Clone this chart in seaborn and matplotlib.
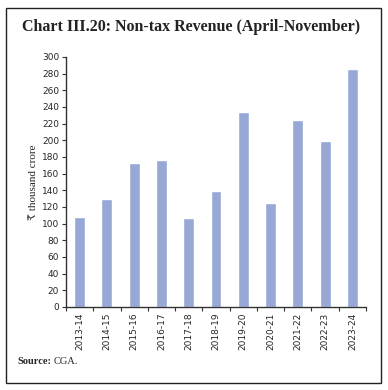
import matplotlib
matplotlib.use("Agg")
import matplotlib.pyplot as plt
from matplotlib.patches import Rectangle
from matplotlib.ticker import FixedLocator
import numpy as np
import pandas as pd
import seaborn as sns

# data
years = ["2013-14", "2014-15", "2015-16", "2016-17", "2017-18", "2018-19",
         "2019-20", "2020-21", "2021-22", "2022-23", "2023-24"]
revenue = [107.5, 129, 173, 176, 106.5, 139, 233.5, 124.5, 224, 199, 285.5]

df = pd.DataFrame({"year": years, "revenue": revenue})

sns.set_style("white")
plt.rcParams["font.family"] = ["DejaVu Sans"]

fig = plt.figure(figsize=(3.88, 3.90), dpi=100)
ax = fig.add_axes([66 / 388, 1 - 307 / 390, 300 / 388, 250 / 390])

sns.barplot(data=df, x="year", y="revenue", color="#97A8D7", width=0.4,
            saturation=1, ax=ax)

ax.set_ylim(0, 300)
ax.set_xlim(-0.5, len(years) - 0.5)
ax.set_yticks(np.arange(0, 301, 20))
ax.tick_params(axis="y", labelsize=6.5, length=3, width=0.8, color="#333333",
               pad=2, left=True)
ax.tick_params(axis="x", which="major", length=0, labelsize=6.5, rotation=90, pad=4)
ax.xaxis.set_minor_locator(FixedLocator(np.arange(-0.5, len(years), 1)))
ax.tick_params(axis="x", which="minor", length=3, width=0.8, color="#333333",
               bottom=True)
for s in ["top", "right"]:
    ax.spines[s].set_visible(False)
for s in ["left", "bottom"]:
    ax.spines[s].set_color("#333333")
    ax.spines[s].set_linewidth(1.0)

ax.set_xlabel("")
ax.set_ylabel("₹ thousand crore", family=["Liberation Serif", "DejaVu Serif"],
              fontsize=8, labelpad=3)

fig.text(22 / 388, 1 - 27 / 390, "Chart III.20: Non-tax Revenue (April-November)",
         family="Liberation Serif", fontweight="bold", fontsize=11.5,
         va="center", ha="left", color="#222222")

# source line: bold label followed by plain text
src = fig.text(17 / 388, 1 - 361 / 390, "Source:", family="Liberation Serif",
               fontweight="bold", fontsize=7.5, va="center", ha="left")
fig.canvas.draw()
bb = src.get_window_extent(renderer=fig.canvas.get_renderer())
fig.text((bb.x1 + 3) / fig.bbox.width, 1 - 361 / 390, "CGA.",
         family="Liberation Serif", fontsize=7.5, va="center", ha="left")

fig.add_artist(Rectangle((6 / 388, 1 - 383 / 390), 375 / 388, 375 / 390,
                         transform=fig.transFigure, fill=False,
                         edgecolor="#222222", linewidth=1.0))

fig.savefig("out.png", dpi=100)
plt.close(fig)
